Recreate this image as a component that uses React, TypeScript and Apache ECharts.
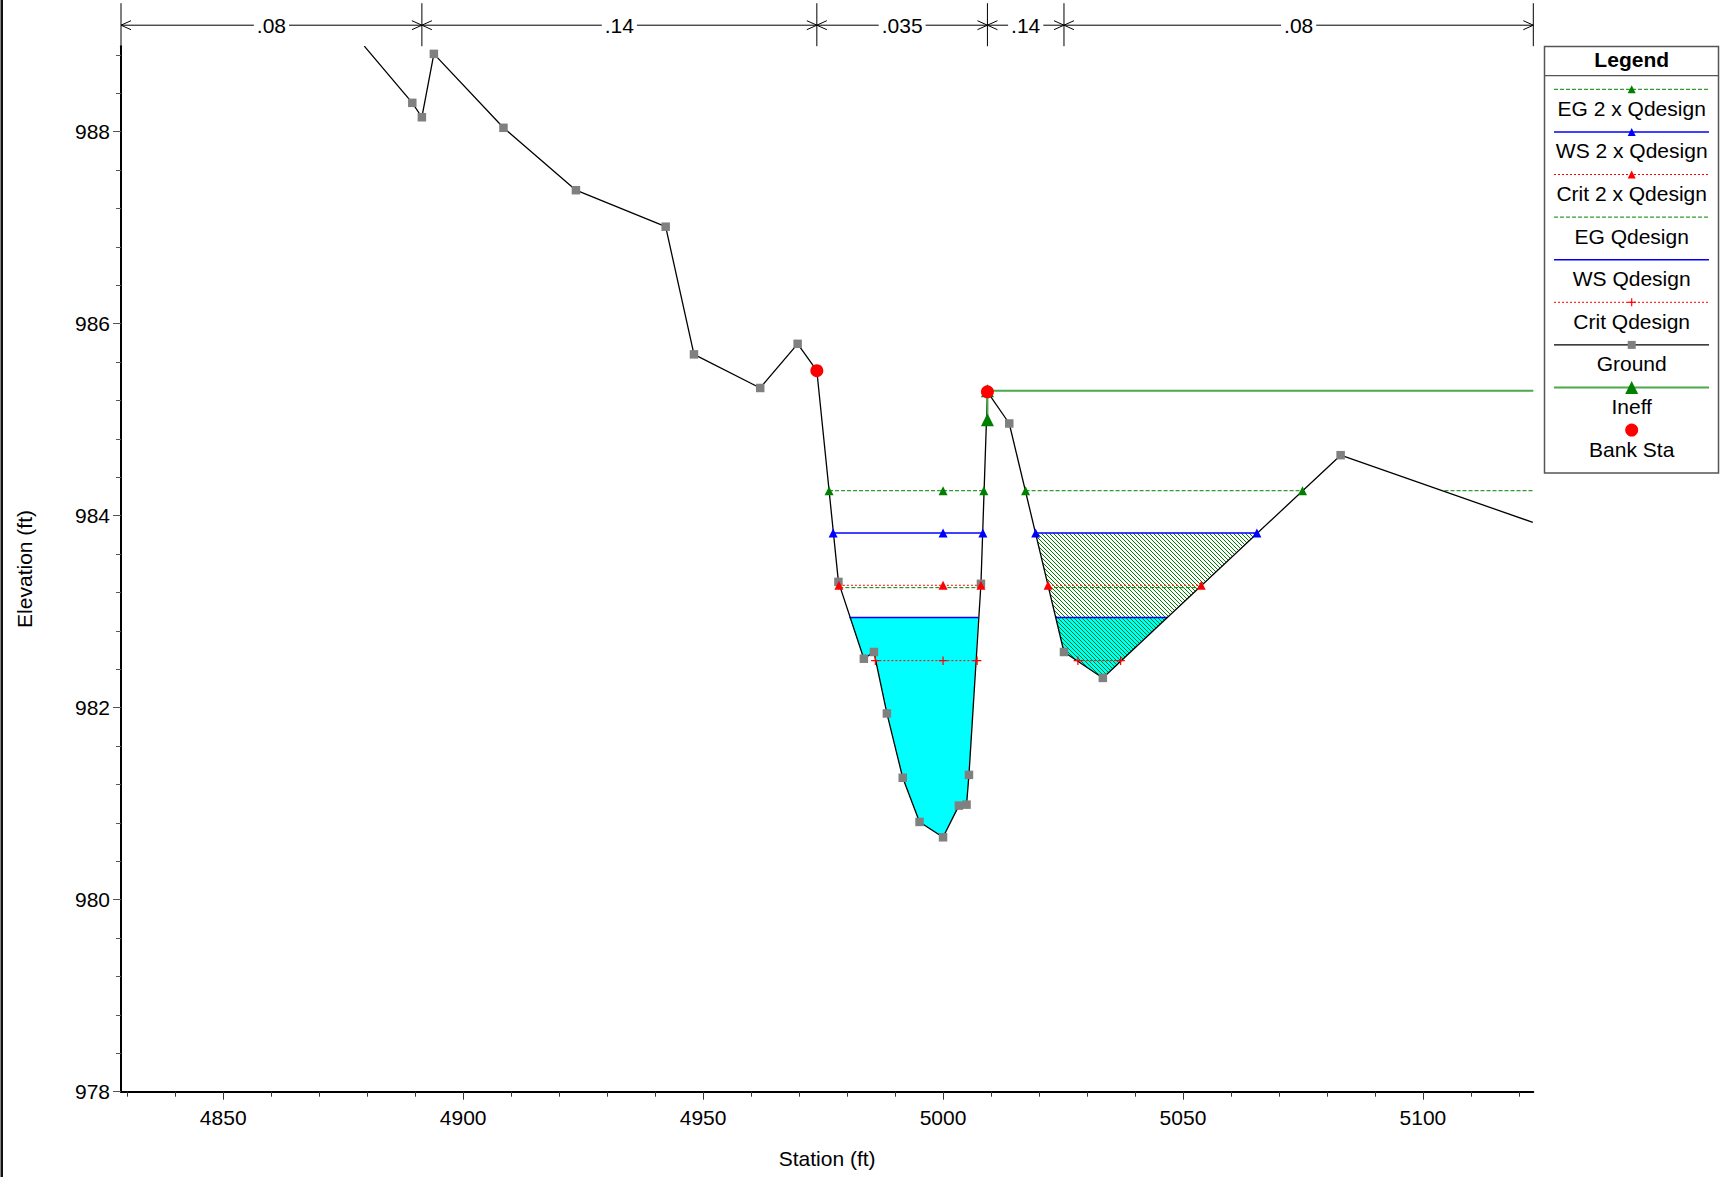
import React, { useEffect, useRef } from 'react';
import * as echarts from 'echarts';

const FONT = '"Liberation Sans", Arial, Helvetica, sans-serif';

// ---- axis extents and ticks ----
const X_MIN = 4828.7;
const X_MAX = 5123;
const Y_MIN = 978;
const Y_MAX = 988.89;

const X_TICK_LABELS = [4850, 4900, 4950, 5000, 5050, 5100];
const X_MINOR_TICKS = [4830, 4840, 4860, 4870, 4880, 4890, 4910, 4920, 4930, 4940, 4960, 4970, 4980, 4990, 5010, 5020, 5030, 5040, 5060, 5070, 5080, 5090, 5110, 5120];
const Y_TICK_LABELS = [978, 980, 982, 984, 986, 988];
const Y_MINOR_TICKS = [978.4, 978.8, 979.2, 979.6, 980.4, 980.8, 981.2, 981.6, 982.4, 982.8, 983.2, 983.6, 984.4, 984.8, 985.2, 985.6, 986.4, 986.8, 987.2, 987.6, 988.4, 988.8];

// ---- ground profile (station, elevation) ----
const GROUND: number[][] = [
  [4879.4, 988.89],
  [4889.4, 988.3],
  [4891.4, 988.15],
  [4893.9, 988.81],
  [4908.4, 988.04],
  [4923.5, 987.39],
  [4942.2, 987.01],
  [4948.1, 985.68],
  [4961.9, 985.33],
  [4969.7, 985.79],
  [4973.7, 985.51],
  [4978.2, 983.31],
  [4983.5, 982.51],
  [4985.6, 982.58],
  [4988.3, 981.94],
  [4991.6, 981.27],
  [4995.1, 980.81],
  [5000.0, 980.65],
  [5003.3, 980.98],
  [5004.9, 980.99],
  [5005.4, 981.3],
  [5007.9, 983.29],
  [5009.25, 985.29],
  [5013.8, 984.96],
  [5025.2, 982.58],
  [5033.3, 982.31],
  [5082.85, 984.63],
  [5122.9, 983.93],
];

const BANK_STA: number[][] = [
  [4973.7, 985.51],
  [5009.25, 985.29],
];

const INEFF: number[][] = [
  [5009.25, 985.0],
  [5009.25, 985.3],
  [5123, 985.3],
];

// ---- water surfaces ----
const EG2X_ELEV = 984.26;
const EG2X_SEGMENTS = [[4976.25, 5008.5], [5017.2, 5074.9], [5104.5, 5123]];
const EG2X_MARKERS = [4976.25, 5000, 5008.5, 5017.2, 5074.9];

const WS2X_ELEV = 983.82;
const WS2X_SEGMENTS = [[4977.1, 5008.3], [5019.3, 5065.4]];
const WS2X_MARKERS = [4977.1, 5000, 5008.3, 5019.3, 5065.4];

const CRIT2X_ELEV = 983.275;
const CRIT2X_SEGMENTS = [[4978.3, 5007.9], [5021.9, 5053.8]];
const CRIT2X_MARKERS = [4978.3, 5000, 5007.9, 5021.9, 5053.8];

const EGQ_ELEV = 983.25;
const EGQ_SEGMENTS = [[4978.4, 5007.65], [5021.9, 5053.2]];

const WSQ_ELEV = 982.94;
const WSQ_SEGMENTS = [[4980.5, 5007.3], [5023.5, 5046.7]];

const CRITQ_ELEV = 982.49;
const CRITQ_SEGMENTS = [[4985.9, 5007.1], [5028.1, 5037.0]];
const CRITQ_MARKERS = [4985.9, 5000, 5007.1, 5028.1, 5037.0];

// ineffective (hatched) area: right overbank under WS 2 x Qdesign
const INEFF_AREA_SEGMENT = WS2X_SEGMENTS[1];

// ---- Manning's n ----
const MANNING_BREAKS = [4828.7, 4891.4, 4973.7, 5009.25, 5025.2, 5123];
const MANNING_N = ['.08', '.14', '.035', '.14', '.08'];

// ---- styles ----
const C = {
  eg: '#008000',
  ws: '#0000ff',
  crit: '#ff0000',
  ground: '#000000',
  groundMarker: '#808080',
  ineffLine: '#4ba84b',
  ineffMarker: '#008000',
  water: '#00ffff',
  hatch: '#008000',
  bank: '#ff0000',
};
const PLUS = 'path://M3,0H4V3H7V4H4V7H3V4H0V3H3Z';

const LEGEND_ITEMS = [
  { label: 'EG 2 x Qdesign', color: C.eg, dash: [4, 2], width: 1, marker: 'triangle', markerColor: C.eg, size: 8 },
  { label: 'WS 2 x Qdesign', color: C.ws, dash: null, width: 1.5, marker: 'triangle', markerColor: C.ws, size: 8 },
  { label: 'Crit 2 x Qdesign', color: C.crit, dash: [2, 2], width: 1, marker: 'triangle', markerColor: C.crit, size: 8 },
  { label: 'EG Qdesign', color: C.eg, dash: [4, 2], width: 1, marker: null, markerColor: '', size: 0 },
  { label: 'WS Qdesign', color: C.ws, dash: null, width: 1.5, marker: null, markerColor: '', size: 0 },
  { label: 'Crit Qdesign', color: C.crit, dash: [2, 2], width: 1, marker: 'plus', markerColor: C.crit, size: 8 },
  { label: 'Ground', color: C.ground, dash: null, width: 1.3, marker: 'rect', markerColor: C.groundMarker, size: 8 },
  { label: 'Ineff', color: C.ineffLine, dash: null, width: 2, marker: 'triangle', markerColor: C.ineffMarker, size: 13 },
  { label: 'Bank Sta', color: null, dash: null, width: 0, marker: 'circle', markerColor: C.bank, size: 13 },
];

function segLines(elev: number, segs: number[][], lineStyle: any, z: number) {
  return segs.map(([a, b]) => ({
    type: 'line',
    data: [[a, elev], [b, elev]],
    symbol: 'none',
    lineStyle,
    z,
    silent: true,
  }));
}

function markers(elev: number, stations: number[], symbol: string, size: number, color: string, z: number) {
  return {
    type: 'scatter',
    data: stations.map((s) => [s, elev]),
    symbol,
    symbolSize: size,
    itemStyle: { color, opacity: 1 },
    z,
    silent: true,
  };
}

function waterPoly(seg: number[], elev: number) {
  const [a, b] = seg;
  const inner = GROUND.filter((p) => p[0] > a && p[0] < b);
  return [[a, elev], ...inner, [b, elev]];
}

function polySeries(points: number[][], style: any, z: number) {
  return {
    type: 'custom',
    coordinateSystem: 'cartesian2d',
    data: points,
    encode: { x: 0, y: 1 },
    z,
    silent: true,
    renderItem: (params: any, api: any) => {
      if (params.dataIndex !== 0) return null;
      return {
        type: 'polygon',
        shape: { points: points.map((p) => api.coord(p)) },
        style,
      };
    },
  };
}

function hatchPattern(): any {
  const c = document.createElement('canvas');
  c.width = 4;
  c.height = 4;
  const ctx = c.getContext('2d')!;
  ctx.strokeStyle = C.hatch;
  ctx.lineWidth = 1;
  ctx.beginPath();
  ctx.moveTo(-1, -1);
  ctx.lineTo(5, 5);
  ctx.moveTo(-1, 3);
  ctx.lineTo(1, 5);
  ctx.moveTo(3, -1);
  ctx.lineTo(5, 1);
  ctx.stroke();
  return { image: c.toDataURL(), repeat: 'repeat', imageWidth: 4, imageHeight: 4 };
}

function buildLegend() {
  const els: any[] = [];
  const LX0 = 1554;
  const LX1 = 1709;
  const CX = 1631.7;
  els.push({ type: 'rect', shape: { x: 1544.5, y: 46.5, width: 174, height: 426.5 }, style: { fill: '#fff', stroke: '#555', lineWidth: 1.5 }, z: 100 });
  els.push({ type: 'text', x: CX, y: 59.5, style: { text: 'Legend', font: `bold 21px ${FONT}`, fill: '#000', align: 'center', verticalAlign: 'middle' }, z: 101 });
  els.push({ type: 'line', shape: { x1: 1544.5, y1: 75.7, x2: 1718.5, y2: 75.7 }, style: { stroke: '#555', lineWidth: 1.2 }, z: 101 });
  LEGEND_ITEMS.forEach((it, i) => {
    const ly = 89.3 + i * 42.6;
    if (it.color) {
      els.push({ type: 'line', shape: { x1: LX0, y1: ly, x2: LX1, y2: ly }, style: { stroke: it.color, lineWidth: it.width, lineDash: it.dash || null }, z: 101 });
    }
    const s = it.size;
    if (it.marker === 'triangle') {
      els.push({ type: 'polygon', shape: { points: [[CX, ly - s / 2], [CX + s / 2, ly + s / 2], [CX - s / 2, ly + s / 2]] }, style: { fill: it.markerColor }, z: 102 });
    } else if (it.marker === 'rect') {
      els.push({ type: 'rect', shape: { x: CX - s / 2, y: ly - s / 2, width: s, height: s }, style: { fill: it.markerColor }, z: 102 });
    } else if (it.marker === 'circle') {
      els.push({ type: 'circle', shape: { cx: CX, cy: ly, r: s / 2 }, style: { fill: it.markerColor }, z: 102 });
    } else if (it.marker === 'plus') {
      els.push({ type: 'line', shape: { x1: CX - s / 2, y1: ly, x2: CX + s / 2, y2: ly }, style: { stroke: it.markerColor, lineWidth: 1.2 }, z: 102 });
      els.push({ type: 'line', shape: { x1: CX, y1: ly - s / 2, x2: CX, y2: ly + s / 2 }, style: { stroke: it.markerColor, lineWidth: 1.2 }, z: 102 });
    }
    els.push({ type: 'text', x: CX, y: ly + 19, style: { text: it.label, font: `21px ${FONT}`, fill: '#000', align: 'center', verticalAlign: 'middle' }, z: 101 });
  });
  // left frame border
  els.push({ type: 'rect', shape: { x: 0.5, y: 0, width: 2.5, height: 1177 }, style: { fill: '#111' }, z: 100 });
  return els;
}

function manningSeries() {
  return {
    type: 'custom',
    coordinateSystem: 'cartesian2d',
    clip: false,
    silent: true,
    z: 20,
    data: MANNING_N.map((n, i) => [MANNING_BREAKS[i], MANNING_BREAKS[i + 1], i]),
    encode: { x: [0, 1], y: 2 },
    renderItem: (params: any, api: any) => {
      const i = params.dataIndex;
      const x0 = api.coord([api.value(0), Y_MAX])[0];
      const x1 = api.coord([api.value(1), Y_MAX])[0];
      const yTop = api.coord([X_MIN, Y_MAX])[1];
      const yA = yTop - 21;
      const barTop = yTop - 43;
      const ls = { stroke: '#000', lineWidth: 1, fill: null };
      const children: any[] = [
        { type: 'line', shape: { x1: x0, y1: yA, x2: x1, y2: yA }, style: ls },
        { type: 'polyline', shape: { points: [[x0 + 10, yA - 4.5], [x0, yA], [x0 + 10, yA + 4.5]] }, style: ls },
        { type: 'polyline', shape: { points: [[x1 - 10, yA - 4.5], [x1, yA], [x1 - 10, yA + 4.5]] }, style: ls },
        { type: 'line', shape: { x1: x0, y1: barTop, x2: x0, y2: yTop }, style: ls },
        {
          type: 'text',
          x: (x0 + x1) / 2,
          y: yA,
          style: {
            text: MANNING_N[i],
            font: `21px ${FONT}`,
            fill: '#000',
            align: 'center',
            verticalAlign: 'middle',
            backgroundColor: '#fff',
            padding: [0, 3],
          },
        },
      ];
      if (i === MANNING_N.length - 1) {
        children.push({ type: 'line', shape: { x1: x1, y1: barTop, x2: x1, y2: yTop }, style: ls });
      }
      return { type: 'group', children };
    },
  };
}

function buildOption(): any {
  const egStyle = { color: C.eg, width: 1, type: [4, 2] };
  const wsStyle = { color: C.ws, width: 1.5, type: 'solid' };
  const critStyle = { color: C.crit, width: 1, type: [2, 2] };

  const series: any[] = [
    polySeries(waterPoly(WSQ_SEGMENTS[0], WSQ_ELEV), { fill: C.water }, 1),
    polySeries(waterPoly(WSQ_SEGMENTS[1], WSQ_ELEV), { fill: C.water }, 1),
    polySeries(waterPoly(INEFF_AREA_SEGMENT, WS2X_ELEV), { fill: hatchPattern() }, 1.5),
    ...segLines(WSQ_ELEV, WSQ_SEGMENTS, wsStyle, 2),
    ...segLines(EGQ_ELEV, EGQ_SEGMENTS, egStyle, 2),
    ...segLines(CRITQ_ELEV, CRITQ_SEGMENTS, critStyle, 2),
    ...segLines(CRIT2X_ELEV, CRIT2X_SEGMENTS, critStyle, 2),
    ...segLines(WS2X_ELEV, WS2X_SEGMENTS, wsStyle, 2),
    ...segLines(EG2X_ELEV, EG2X_SEGMENTS, egStyle, 2),
    {
      type: 'line',
      name: 'Ground',
      data: GROUND.map((p, i) => ({ value: p, symbol: i === 0 || i === GROUND.length - 1 ? 'none' : 'rect' })),
      symbol: 'rect',
      symbolSize: 8.5,
      showAllSymbol: true,
      itemStyle: { color: C.groundMarker },
      lineStyle: { color: C.ground, width: 1.3 },
      z: 3,
      silent: true,
    },
    markers(CRITQ_ELEV, CRITQ_MARKERS, PLUS, 8.5, C.crit, 4),
    markers(CRIT2X_ELEV, CRIT2X_MARKERS, 'triangle', 9, C.crit, 4),
    markers(WS2X_ELEV, WS2X_MARKERS, 'triangle', 9, C.ws, 4),
    markers(EG2X_ELEV, EG2X_MARKERS, 'triangle', 9, C.eg, 4),
    {
      type: 'line',
      name: 'Ineff',
      data: INEFF.map((p, i) => ({ value: p, symbol: i === INEFF.length - 1 ? 'none' : 'triangle' })),
      symbol: 'triangle',
      symbolSize: 13,
      showAllSymbol: true,
      itemStyle: { color: C.ineffMarker },
      lineStyle: { color: C.ineffLine, width: 2 },
      z: 4,
      silent: true,
    },
    {
      type: 'scatter',
      name: 'Bank Sta',
      data: BANK_STA,
      symbol: 'circle',
      symbolSize: 13,
      itemStyle: { color: C.bank, opacity: 1 },
      z: 5,
      silent: true,
    },
    manningSeries(),
  ];

  const tickLine = { color: '#333', width: 1 };
  const labelStyle = { fontSize: 21, color: '#000', fontFamily: FONT };

  return {
    animation: false,
    backgroundColor: '#ffffff',
    textStyle: { fontFamily: FONT },
    grid: { left: 121, right: 187.7, top: 46.2, bottom: 85.3, containLabel: false, outerBoundsMode: 'none' },
    xAxis: [
      {
        type: 'value',
        min: X_MIN,
        max: X_MAX,
        position: 'bottom',
        name: 'Station (ft)',
        nameLocation: 'middle',
        nameGap: 56,
        nameTextStyle: labelStyle,
        axisLine: { show: true, onZero: false, lineStyle: { color: '#000', width: 2 } },
        axisTick: { show: true, length: 8, customValues: X_TICK_LABELS, lineStyle: tickLine },
        axisLabel: { show: true, customValues: X_TICK_LABELS, margin: 15, ...labelStyle, formatter: (v: number) => String(v) },
        splitLine: { show: false },
      },
      {
        type: 'value',
        min: X_MIN,
        max: X_MAX,
        position: 'bottom',
        axisLine: { show: false, onZero: false },
        axisTick: { show: true, length: 5, customValues: X_MINOR_TICKS, lineStyle: tickLine },
        axisLabel: { show: false },
        splitLine: { show: false },
      },
    ],
    yAxis: [
      {
        type: 'value',
        min: Y_MIN,
        max: Y_MAX,
        position: 'left',
        name: 'Elevation (ft)',
        nameLocation: 'middle',
        nameGap: 86,
        nameTextStyle: labelStyle,
        axisLine: { show: true, onZero: false, lineStyle: { color: '#000', width: 2 } },
        axisTick: { show: true, length: 8, customValues: Y_TICK_LABELS, lineStyle: { color: '#555', width: 1 } },
        axisLabel: { show: true, customValues: Y_TICK_LABELS, margin: 11, ...labelStyle, formatter: (v: number) => String(v) },
        splitLine: { show: false },
      },
      {
        type: 'value',
        min: Y_MIN,
        max: Y_MAX,
        position: 'left',
        axisLine: { show: false, onZero: false },
        axisTick: { show: true, length: 5, customValues: Y_MINOR_TICKS, lineStyle: { color: '#555', width: 1 } },
        axisLabel: { show: false },
        splitLine: { show: false },
      },
    ],
    graphic: { elements: buildLegend() },
    series,
  };
}

export default function App() {
  const ref = useRef<HTMLDivElement>(null);
  useEffect(() => {
    if (!ref.current) return;
    const chart = echarts.init(ref.current, undefined, { renderer: 'svg' });
    chart.setOption(buildOption());
    return () => chart.dispose();
  }, []);
  return (
    <div
      ref={ref}
      style={{ position: 'absolute', left: 0, top: 0, width: 1721, height: 1177, background: '#fff' }}
    />
  );
}
